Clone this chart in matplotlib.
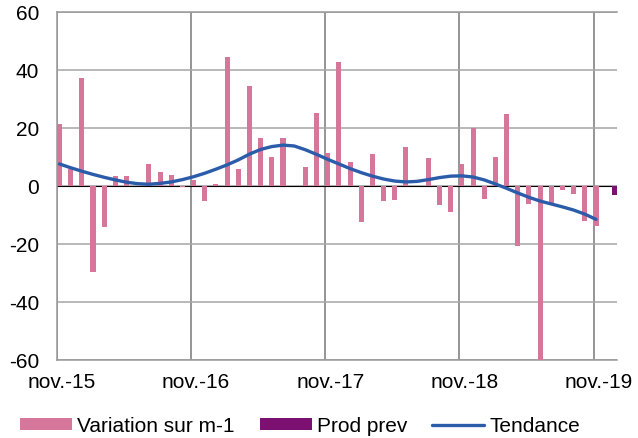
import matplotlib
matplotlib.use('Agg')
import matplotlib.pyplot as plt
import numpy as np

plt.rcParams['font.family'] = ['Liberation Sans', 'DejaVu Sans']
plt.rcParams['axes.unicode_minus'] = False

# monthly data, nov-15 .. nov-19
year_labels = ['nov.-15', 'nov.-16', 'nov.-17', 'nov.-18', 'nov.-19']
variation = [21.5, 5.7, 37.2, -29.6, -14.2, 3.3, 3.3, 0.0, 7.6, 4.7, 3.8, -0.3,
             2.0, -5.1, 0.6, 44.6, 5.8, 34.5, 16.4, 10.0, 16.4, 0.0, 6.5, 25.2,
             11.3, 42.8, 8.4, -12.4, 11.0, -5.2, -4.7, 13.4, 0.0, 9.8, -6.5, -9.0,
             7.6, 20.0, -4.4, 10.0, 24.9, -20.8, -6.1, -60.6, -5.9, -1.5, -2.7, -12.1,
             -13.9]
prod_prev = [-3.0]
tendance = [7.6, 6.3, 5.1, 4.0, 3.0, 2.1, 1.3, 0.8, 0.6, 0.9, 1.4, 2.2,
            3.2, 4.4, 5.8, 7.3, 9.0, 11.0, 12.6, 13.6, 14.1, 13.8, 12.5, 10.9,
            9.2, 7.6, 6.0, 4.6, 3.4, 2.4, 1.7, 1.4, 1.6, 2.2, 2.9, 3.4,
            3.5, 3.1, 2.1, 0.7, -0.8, -2.4, -3.9, -5.2, -6.2, -7.2, -8.3, -9.7,
            -11.5]

pink = '#D6769A'
purple = '#7D1171'
blue = '#2A5CAA'

months = np.arange(len(variation))

fig = plt.figure(figsize=(6.38, 4.38), dpi=100)
ax = fig.add_axes([57 / 638, 78 / 438, 560 / 638, 348 / 438])

b1 = ax.bar(months + 0.22, variation, width=0.45, color=pink, zorder=3,
            label='Variation sur m-1')
b2 = ax.bar([len(variation) + 0.85], prod_prev, width=0.45, color=purple, zorder=3,
            label='Prod prev')
l1, = ax.plot(months + 0.22, tendance, color=blue, lw=2.4, zorder=4,
              solid_capstyle='round', label='Tendance')
ax.axhline(0, color='black', lw=0.8, zorder=2.5)

ax.set_xlim(0, 50.1)
ax.set_ylim(-60, 60)
ax.set_yticks(np.arange(-60, 61, 20))

# vertical gridlines at each november, labels centred on the month
ax.set_xticks(np.arange(0, 49, 12), minor=True)
ax.set_xticks(np.arange(0, 49, 12) + 0.45)
ax.set_xticklabels(year_labels)
ax.grid(axis='x', which='minor', color='#8C8C8C', lw=1.3, zorder=1)
ax.grid(axis='y', which='major', color='#A6A6A6', lw=1.1, zorder=1)
ax.tick_params(axis='both', which='both', length=0, labelsize=15)
ax.tick_params(axis='y', pad=13)
ax.tick_params(axis='x', pad=9)

for side in ['left', 'top', 'bottom']:
    ax.spines[side].set_color('#999999')
    ax.spines[side].set_linewidth(1.1)
ax.spines['right'].set_visible(False)

fig.legend([b1, b2, l1], ['Variation sur m-1', 'Prod prev', 'Tendance'],
           loc='center', bbox_to_anchor=(300 / 638, 1 - 426 / 438), ncol=3,
           frameon=False, fontsize=15, handlelength=2.5, handleheight=0.5,
           handletextpad=0.25, columnspacing=1.2, borderpad=0)

fig.savefig('out.png', dpi=100)
